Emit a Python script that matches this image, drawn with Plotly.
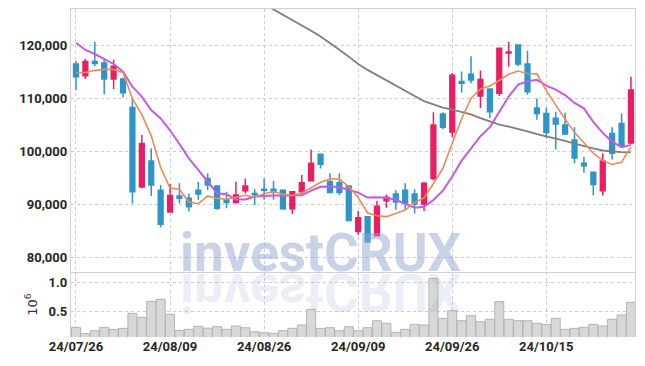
import plotly.graph_objects as go

dates = ["24/07/26", "24/07/29", "24/07/30", "24/07/31", "24/08/01", "24/08/02", "24/08/05", "24/08/06",
         "24/08/07", "24/08/08", "24/08/09", "24/08/12", "24/08/13", "24/08/14", "24/08/16", "24/08/19",
         "24/08/20", "24/08/21", "24/08/22", "24/08/23", "24/08/26", "24/08/27", "24/08/28", "24/08/29",
         "24/08/30", "24/09/02", "24/09/03", "24/09/04", "24/09/05", "24/09/06", "24/09/09", "24/09/10",
         "24/09/11", "24/09/12", "24/09/13", "24/09/19", "24/09/20", "24/09/23", "24/09/24", "24/09/25",
         "24/09/26", "24/09/27", "24/09/30", "24/10/02", "24/10/04", "24/10/07", "24/10/08", "24/10/10",
         "24/10/11", "24/10/14", "24/10/15", "24/10/16", "24/10/17", "24/10/18", "24/10/21", "24/10/22",
         "24/10/23", "24/10/24", "24/10/25", "24/10/28"]

open_ = [116400, 114200, 116900, 116600, 113600, 113600, 108200, 93200, 98100, 92600,
         88500, 91500, 91100, 92600, 94800, 93400, 90800, 90300, 92500, 92000,
         92800, 92800, 92600, 89100, 92300, 94400, 99400, 94200, 94000, 93400,
         84800, 87600, 84000, 90600, 91900, 92600, 91900, 90000, 94800, 107000,
         103600, 113100, 114500, 110400, 111700, 110900, 118500, 120000, 116400, 108100,
         107100, 106200, 104900, 102100, 97700, 96000, 92500, 103300, 105200, 101500]
high = [117000, 117400, 120600, 117500, 117200, 113800, 109800, 103000, 100500, 93600,
        93800, 93900, 92000, 94200, 95800, 93500, 92300, 94200, 94800, 92800,
        94800, 94400, 92700, 92400, 95500, 100300, 99500, 95800, 95800, 93600,
        88700, 87700, 90600, 91800, 92600, 93900, 92800, 94200, 107300, 107300,
        114700, 115000, 117900, 115200, 111800, 119500, 120600, 120100, 118900, 109900,
        108200, 107400, 107200, 104500, 98900, 96100, 99600, 104500, 107100, 114000]
low = [111500, 113600, 116000, 110700, 111700, 110100, 90100, 93000, 91500, 85600,
       88400, 90100, 88600, 90800, 92600, 88900, 89200, 90100, 92000, 89800,
       90800, 90800, 88900, 88100, 91500, 94300, 96700, 92000, 91700, 86700,
       84200, 82800, 83900, 89300, 88900, 88900, 88200, 88700, 94500, 104100,
       102600, 111000, 112800, 108100, 106200, 110400, 115900, 116000, 110600, 105900,
       102400, 100300, 103000, 97700, 95900, 91600, 91600, 98400, 100900, 101300]
close = [114000, 116900, 116500, 113600, 116000, 111000, 92300, 101400, 93600, 86200,
         91600, 91100, 89500, 91900, 93600, 89200, 90300, 91700, 93400, 91800,
         92600, 92300, 89100, 92300, 94000, 97700, 97500, 92200, 92200, 86900,
         87400, 82900, 89600, 91300, 90400, 90200, 90000, 93900, 104900, 104500,
         114300, 112800, 113400, 113500, 107400, 119400, 118700, 116400, 111200, 107100,
         103500, 105100, 103200, 98700, 97200, 93700, 98100, 99600, 101000, 111500]

volume = [233000, 130000, 177000, 233000, 200000, 217000, 472000, 405000, 677000, 711000,
          456000, 183000, 200000, 252000, 220000, 245000, 200000, 257000, 228000, 160000,
          143000, 133000, 177000, 217000, 274000, 541000, 217000, 228000, 177000, 245000,
          177000, 228000, 347000, 303000, 150000, 200000, 285000, 274000, 1068000, 388000,
          517000, 347000, 432000, 330000, 370000, 670000, 370000, 347000, 347000, 303000,
          285000, 388000, 200000, 217000, 235000, 285000, 257000, 370000, 444000, 660000]

ma5 = [114780, 114810, 115220, 115410, 115400, 114800, 109880, 106860, 102860, 96900,
       93020, 92780, 90400, 90060, 91540, 91060, 90900, 91340, 91640, 91280,
       91960, 92360, 91840, 91620, 92060, 93080, 94120, 94740, 94720, 93300,
       91240, 88320, 87800, 87620, 88320, 88880, 90300, 91160, 93880, 96700,
       101520, 106080, 109980, 111700, 112280, 113300, 114480, 115080, 114620, 114560,
       111380, 108660, 106020, 103520, 101540, 99580, 98180, 97460, 97920, 100780]
ma10 = [120430, 119060, 118300, 117300, 116420, 114970, 112140, 110250, 107740, 106150,
        103910, 101330, 98630, 96460, 94220, 92040, 91840, 90870, 90850, 91410,
        91510, 91630, 91590, 91630, 91670, 92520, 93240, 93290, 93170, 92680,
        92160, 91220, 91270, 91170, 90810, 90060, 89310, 89480, 90750, 92510,
        95200, 98190, 100570, 102790, 104490, 107410, 110280, 112530, 113160, 113420,
        112340, 111570, 110550, 109070, 108050, 105480, 103420, 101740, 100720, 101160]
ma60 = [None] * 20 + [
        127700, 126700, 125700, 124800, 123800, 122700, 121600, 120400, 119100, 117800,
        116400, 115300, 114300, 113300, 112300, 111300, 110300, 109400, 108800, 108200,
        107800, 107400, 106900, 106200, 105600, 105000, 104600, 104200, 103700, 103200,
        102800, 102300, 101900, 101400, 100900, 100500, 100100, 99900, 99800, 99750]

price_ticks = [80000, 90000, 100000, 110000, 120000]
vol_ticks = [0.5, 1.0]
vol_tick_text = ["0.5", "1.0"]
label_step = 10

x = list(range(len(dates)))
tick_idx = x[::label_step]
tick_txt = [dates[i] for i in tick_idx]

RED = "#E91E63"
BLUE = "#2E95C8"
GRID = "#c9ccdc"
FRAME = "#cfcfd4"
TXT = "#262626"
FONT = "Roboto, sans-serif"

fig = go.Figure()
fig.add_trace(go.Bar(x=x, y=[v / 1e6 for v in volume], xaxis="x", yaxis="y",
                     marker=dict(color="#d8d8d8", line=dict(color="#b4b4b4", width=1)),
                     width=0.96, hoverinfo="skip"))
fig.add_trace(go.Candlestick(x=x, open=open_, high=high, low=low, close=close,
                             xaxis="x2", yaxis="y2",
                             increasing=dict(line=dict(color=RED, width=1.5), fillcolor=RED),
                             decreasing=dict(line=dict(color=BLUE, width=1.5), fillcolor=BLUE),
                             whiskerwidth=0))
fig.add_trace(go.Scatter(x=x, y=ma60, mode="lines", xaxis="x2", yaxis="y2",
                         line=dict(color="#7f7f7f", width=1.8)))
fig.add_trace(go.Scatter(x=x, y=ma10, mode="lines", xaxis="x2", yaxis="y2",
                         line=dict(color="#C659E8", width=2)))
fig.add_trace(go.Scatter(x=x, y=ma5, mode="lines", xaxis="x2", yaxis="y2",
                         line=dict(color="#F08A52", width=1.6)))

xr = [-0.53, 59.43]
tickfont = dict(family=FONT, size=13, color=TXT, weight="bold")
split = 0.198

fig.update_layout(
    width=645, height=366,
    margin=dict(l=71, r=10, t=9, b=29, autoexpand=False),
    paper_bgcolor="white", plot_bgcolor="white",
    showlegend=False,
    boxgap=0.28,
    xaxis=dict(domain=[0, 1], anchor="y", range=xr, tickvals=tick_idx, ticktext=tick_txt,
               showgrid=True, gridcolor=GRID, griddash="dot", gridwidth=1, automargin=False,
               showline=False, zeroline=False, ticks="", tickfont=tickfont),
    xaxis2=dict(domain=[0, 1], anchor="y2", matches="x", range=xr, tickvals=tick_idx,
                showticklabels=False, showgrid=True, gridcolor=GRID, griddash="dot",
                showline=True, mirror=True, linecolor=FRAME, linewidth=1.3, automargin=False,
                zeroline=False, ticks="", rangeslider=dict(visible=False)),
    yaxis=dict(domain=[0, split], anchor="x", range=[0.07, 1.175], tickvals=vol_ticks,
               ticktext=vol_tick_text, showgrid=True, gridcolor=GRID, griddash="dot",
               showline=True, mirror=True, linecolor=FRAME, linewidth=1.3, zeroline=False,
               ticks="", tickfont=tickfont, automargin=False,
               title=dict(text="10<sup>6</sup>", font=dict(family="DejaVu Sans, sans-serif", size=13, color="#333"),
                          standoff=8)),
    yaxis2=dict(domain=[split, 1], anchor="x2", range=[77170, 126790], tickvals=price_ticks,
                tickformat=",", showgrid=True, gridcolor=GRID, griddash="dot", automargin=False,
                showline=True, mirror=True, linecolor=FRAME, linewidth=1.3, zeroline=False,
                ticks="", tickfont=tickfont),
    annotations=[
        dict(text="investCRUX", xref="paper", yref="paper", x=0.444, y=0.256,
             xanchor="center", yanchor="middle", showarrow=False,
             font=dict(family="Roboto, sans-serif", size=53, color="rgba(150,165,210,0.5)", weight="bold")),
        dict(text="investCRUX", xref="paper", yref="paper", x=0.444, y=0.136,
             xanchor="center", yanchor="middle", showarrow=False,
             font=dict(family="Roboto, sans-serif", size=53, color="rgba(150,165,210,0.2)", weight="bold")),
    ],
)

post = """
(function(){
  document.body.style.margin = '0';
  document.body.style.padding = '0';
  function flip(){
    var gd = document.getElementById('{plot_id}');
    if(!gd) return;
    var t = gd.querySelector('.annotation[data-index="1"] text.annotation-text');
    if(!t) return;
    t.style.transformBox = 'fill-box';
    t.style.transformOrigin = 'center';
    t.style.transform = 'scaleY(-1)';
  }
  flip();
  setTimeout(flip, 50);
  setTimeout(flip, 300);
})();
"""

fig.write_html("out.html", post_script=post, config={"displayModeBar": False})
